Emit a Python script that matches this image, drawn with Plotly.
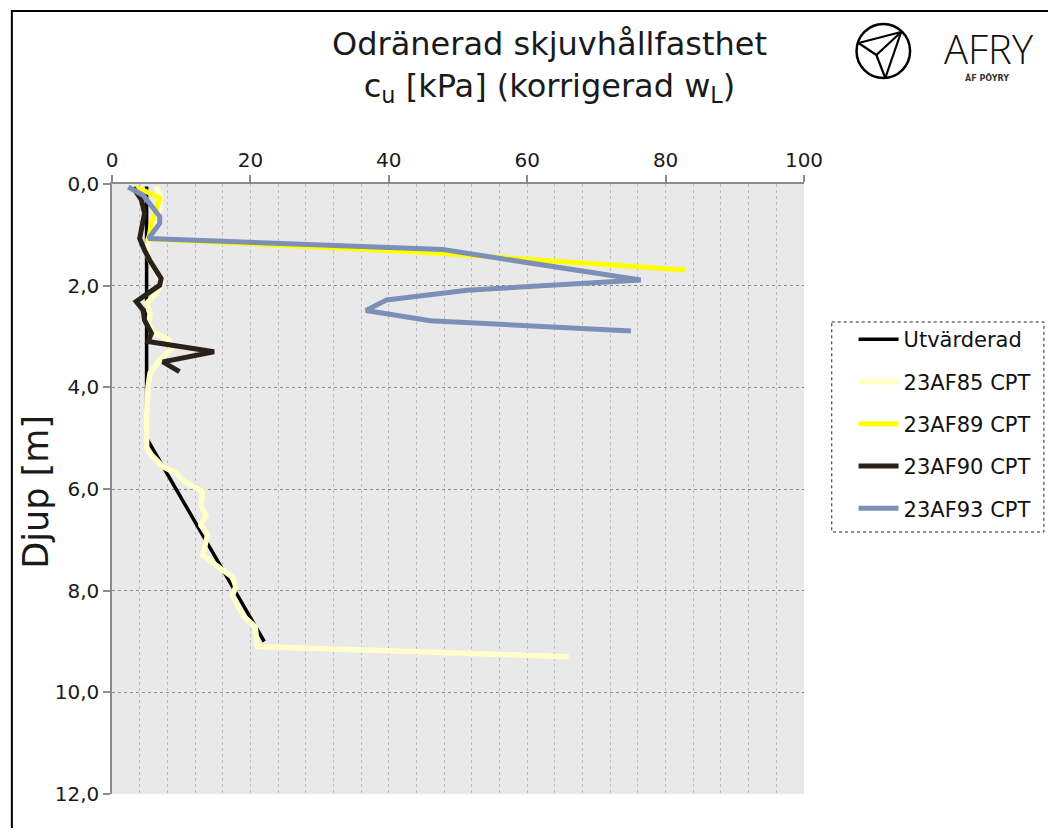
import plotly.graph_objects as go

# ---------------- data ----------------
series_names = ["Utvärderad", "23AF85 CPT", "23AF89 CPT", "23AF90 CPT", "23AF93 CPT"]

utv_cu = [5.0, 5.0, 22.0]
utv_depth = [0.05, 5.0, 9.0]

af85_cu = [6.4, 7.0, 6.9, 6.0, 5.2, 5.1, 5.8, 6.6, 7.2, 6.4, 5.0, 5.5, 5.3, 5.8, 8.3, 8.5, 6.9, 5.5,
           5.2, 5.0, 5.0, 5.7, 7.35, 9.3, 10.5, 13.1, 12.85, 13.6, 12.85, 13.8, 13.1, 15.95, 17.4,
           17.9, 17.4, 19.05, 20.7, 21.0, 66.0]
af85_depth = [0.05, 0.25, 0.5, 0.8, 1.1, 1.4, 1.6, 1.8, 1.95, 2.15, 2.35, 2.55, 2.75, 2.9, 3.07, 3.25,
              3.46, 3.72, 4.0, 4.6, 5.2, 5.33, 5.56, 5.69, 5.86, 6.05, 6.32, 6.51, 6.71, 6.91, 7.3,
              7.59, 7.73, 7.92, 8.09, 8.51, 8.71, 9.1, 9.3]

af89_cu = [3.3, 4.5, 6.9, 6.6, 5.7, 5.45, 5.35, 46.0, 82.8]
af89_depth = [0.07, 0.12, 0.28, 0.41, 0.77, 0.97, 1.08, 1.35, 1.69]

af90_cu = [3.05, 4.25, 4.7, 4.25, 4.0, 4.7, 5.45, 7.1, 6.9, 3.5, 4.5, 4.7, 5.7, 5.2, 14.75, 7.35, 9.75]
af90_depth = [0.07, 0.31, 0.58, 0.84, 1.07, 1.3, 1.5, 1.86, 1.99, 2.31, 2.48, 2.68, 2.94, 3.1, 3.3,
              3.5, 3.69]

af93_cu = [2.34, 4.5, 6.9, 6.9, 5.3, 47.8, 76.4, 51.3, 39.7, 36.7, 46.0, 75.0]
af93_depth = [0.06, 0.22, 0.64, 0.77, 1.07, 1.29, 1.89, 2.09, 2.28, 2.49, 2.69, 2.89]

x_ticks = [0, 20, 40, 60, 80, 100]
y_ticks = [0, 2, 4, 6, 8, 10, 12]

colors = ["#000000", "#FFFFCC", "#FFFF00", "#2A2118", "#7D8FB7"]
widths = [3.5, 5.5, 5, 5, 5]

FONT = "DejaVu Sans"

# ---------------- geometry ----------------
# page has an 8px body margin: figure is drawn at (8, 8) in the window
OFF = 8
W, H = 1056 - 2 * OFF, 836 - 2 * OFF
# plot area in window pixels
L, R, T, B = 112, 810, 184, 794


def px(x):
    return (x - L) / (R - L)


def py(y):
    return (B - y) / (B - T)


fig = go.Figure()
data = [(utv_cu, utv_depth), (af85_cu, af85_depth), (af89_cu, af89_depth),
        (af90_cu, af90_depth), (af93_cu, af93_depth)]
for i, (name, (xs, ys)) in enumerate(zip(series_names, data)):
    fig.add_trace(go.Scatter(
        x=xs, y=ys, name=name, mode="lines", legendgroup=f"g{i}",
        line=dict(color=colors[i], width=widths[i]),
    ))

fig.update_layout(
    width=W, height=H, autosize=False,
    margin=dict(l=L - OFF, r=W - (R - OFF), t=T - OFF, b=H - (B - OFF), pad=0),
    paper_bgcolor="white", plot_bgcolor="#E9E9E9",
    separators=", ",
    font=dict(family=FONT, color="#1a1a1a"),
    showlegend=True,
    legend=dict(
        x=px(860), y=py(319), xanchor="left", yanchor="top",
        font=dict(family=FONT, size=21, color="#111111"),
        bgcolor="rgba(0,0,0,0)", borderwidth=0,
        tracegroupgap=12, itemwidth=40,
    ),
)

fig.update_xaxes(
    side="top", range=[0, 100], tickvals=x_ticks, ticktext=[str(v) for v in x_ticks],
    showline=True, linecolor="#8c8c8c", linewidth=1.5,
    ticks="outside", ticklen=7, tickcolor="#8c8c8c", tickwidth=1.5,
    tickfont=dict(family=FONT, size=20, color="#1a1a1a"),
    showgrid=True, gridcolor="#BDBDBD", griddash="dot", gridwidth=1,
    minor=dict(dtick=4, showgrid=True, gridcolor="#BDBDBD", griddash="dot", gridwidth=1),
    zeroline=False, fixedrange=True,
)
fig.update_yaxes(
    range=[12, 0], tickvals=y_ticks, tickformat=".1f",
    showline=True, linecolor="#8c8c8c", linewidth=1.5,
    ticks="outside", ticklen=7, tickcolor="#8c8c8c", tickwidth=1.5,
    tickfont=dict(family=FONT, size=20, color="#1a1a1a"),
    showgrid=True, gridcolor="#8A8A8A", griddash="dot", gridwidth=1,
    zeroline=False, fixedrange=True,
)

# y axis title
fig.add_annotation(
    x=px(35), y=py(492), xref="paper", yref="paper", text="Djup [m]", showarrow=False,
    textangle=-90, font=dict(family=FONT, size=35, color="#1a1a1a"),
    xanchor="center", yanchor="middle",
)

# chart title (two lines)
fig.add_annotation(
    x=px(553), y=py(67), xref="paper", yref="paper",
    text="Odränerad skjuvhållfasthet<br>c<sub>u</sub> [kPa] (korrigerad w<sub>L</sub>)",
    showarrow=False, font=dict(family=FONT, size=32, color="#1a1a1a"),
    xanchor="center", yanchor="middle", align="center",
)

shapes = []
# outer chart border
shapes.append(dict(type="rect", xref="paper", yref="paper",
                   x0=px(11), x1=px(1075), y0=py(11), y1=py(860),
                   line=dict(color="black", width=2), fillcolor="rgba(0,0,0,0)", layer="below"))
# legend dotted border
shapes.append(dict(type="rect", xref="paper", yref="paper",
                   x0=px(838), x1=px(1052), y0=py(322), y1=py(532),
                   line=dict(color="#222222", width=1, dash="dot"), fillcolor="rgba(0,0,0,0)"))

# AFRY logo (circle + paper plane lines)
cx, cy, r = 890, 51, 27
shapes.append(dict(type="circle", xref="paper", yref="paper",
                   x0=px(cx - r), x1=px(cx + r), y0=py(cy + r), y1=py(cy - r),
                   line=dict(color="black", width=2.5)))
V = (908, 32)
Lp = (865, 43)
M = (883, 55)
Bp = (892, 78)
for a, b in [(V, Lp), (Lp, M), (M, V), (M, Bp), (V, Bp)]:
    shapes.append(dict(type="line", xref="paper", yref="paper",
                       x0=px(a[0]), y0=py(a[1]), x1=px(b[0]), y1=py(b[1]),
                       line=dict(color="black", width=2.2)))
fig.update_layout(shapes=shapes)

fig.add_annotation(
    x=px(997), y=py(48), xref="paper", yref="paper", text="AFRY", showarrow=False,
    font=dict(family="Open Sans", size=40, color="#111111", weight=300),
    xanchor="center", yanchor="middle",
)
fig.add_annotation(
    x=px(995), y=py(78), xref="paper", yref="paper", text="ÅF PÖYRY", showarrow=False,
    font=dict(family=FONT, size=8, color="#333333", weight="bold"),
    xanchor="center", yanchor="middle",
)

fig.write_html("out.html")
